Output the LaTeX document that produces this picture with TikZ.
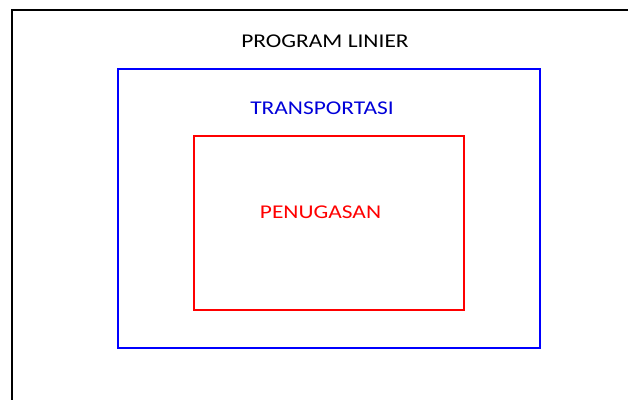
\documentclass[tikz,border=0pt]{standalone}
\usepackage{fontspec}
\setmainfont{Carlito}
\usepackage{tikz}
\usetikzlibrary{positioning}

\newcommand{\widetext}[1]{\scalebox{1.2}[1]{#1}}
\tikzset{
  box/.style={draw,line width=1.3pt,inner sep=0pt},
  lbl/.style={font=\fontsize{19.5}{23}\selectfont,inner sep=0pt}
}

\begin{document}
\begin{tikzpicture}[x=1pt,y=-1pt]
			\useasboundingbox (0,0) rectangle (628,399);
			% outer frame (runs off the right and bottom)
			\draw[line width=1.4pt] (12,420) -- (12,10) -- (650,10);
			\node[lbl] (program) at (325,41) {\widetext{PROGRAM LINIER}};
			% transportasi
			\node[box,draw=blue,minimum width=422pt,minimum height=279pt] (transport) at (329,208.5) {};
			\node[lbl,text=blue!85!black] (transportlbl) at (322,108) {\widetext{TRANSPORTASI}};
			% penugasan
			\node[box,draw=red,minimum width=270pt,minimum height=174pt] (assign) at (329,223) {};
			\node[lbl,text=red] (assignlbl) at (320.5,212) {\widetext{PENUGASAN}};
			\end{tikzpicture}
\end{document}
